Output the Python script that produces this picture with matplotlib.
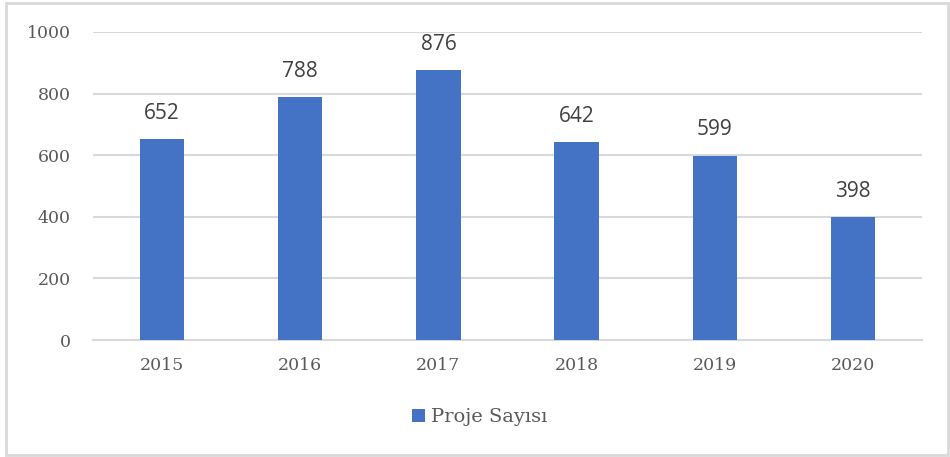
import matplotlib.pyplot as plt
from matplotlib.patches import Rectangle

years = ["2015", "2016", "2017", "2018", "2019", "2020"]
proje_sayisi = [652, 788, 876, 642, 599, 398]
y_ticks = [0, 200, 400, 600, 800, 1000]

bar_color = "#4472C4"
text_color = "#595959"
grid_color = "#D9D9D9"
serif = ["DejaVu Serif"]

fig = plt.figure(figsize=(9.5, 4.57), dpi=100)
ax = fig.add_axes([0.0979, 0.256, 0.8726, 0.674])

x = range(len(years))
bars = ax.bar(x, proje_sayisi, width=0.32, color=bar_color, label="Proje Sayısı", zorder=3)

for i, v in enumerate(proje_sayisi):
    ax.annotate(str(v), xy=(i, v), xytext=(0, 11), textcoords="offset points",
                ha="center", va="bottom", fontsize=15, color="#404040",
                family=["Open Sans", "DejaVu Sans"])

ax.set_xlim(-0.5, len(years) - 0.5)
ax.set_ylim(0, 1000)
ax.set_yticks(y_ticks)
ax.set_xticks(list(x))
ax.set_xticklabels(years)
ax.grid(axis="y", color=grid_color, linewidth=1.5, zorder=0)
for s in ["top", "right", "left"]:
    ax.spines[s].set_visible(False)
ax.spines["bottom"].set_color(grid_color)
ax.spines["bottom"].set_linewidth(1.5)
ax.tick_params(length=0, colors=text_color, labelsize=12.5, pad=12)
ax.tick_params(axis="y", pad=16)
for lbl in ax.get_xticklabels() + ax.get_yticklabels():
    lbl.set_fontfamily(serif)

leg = fig.legend(loc="center", bbox_to_anchor=(0.505, 0.087), frameon=False,
                 handlelength=0.7, handleheight=0.7, handletextpad=0.3, fontsize=14)
for t in leg.get_texts():
    t.set_color(text_color)
    t.set_fontfamily(serif)

fig.patches.append(Rectangle((0.006, 0.004), 0.992, 0.99, transform=fig.transFigure,
                             fill=False, edgecolor=grid_color, linewidth=2))

fig.savefig("out.png", dpi=100)
